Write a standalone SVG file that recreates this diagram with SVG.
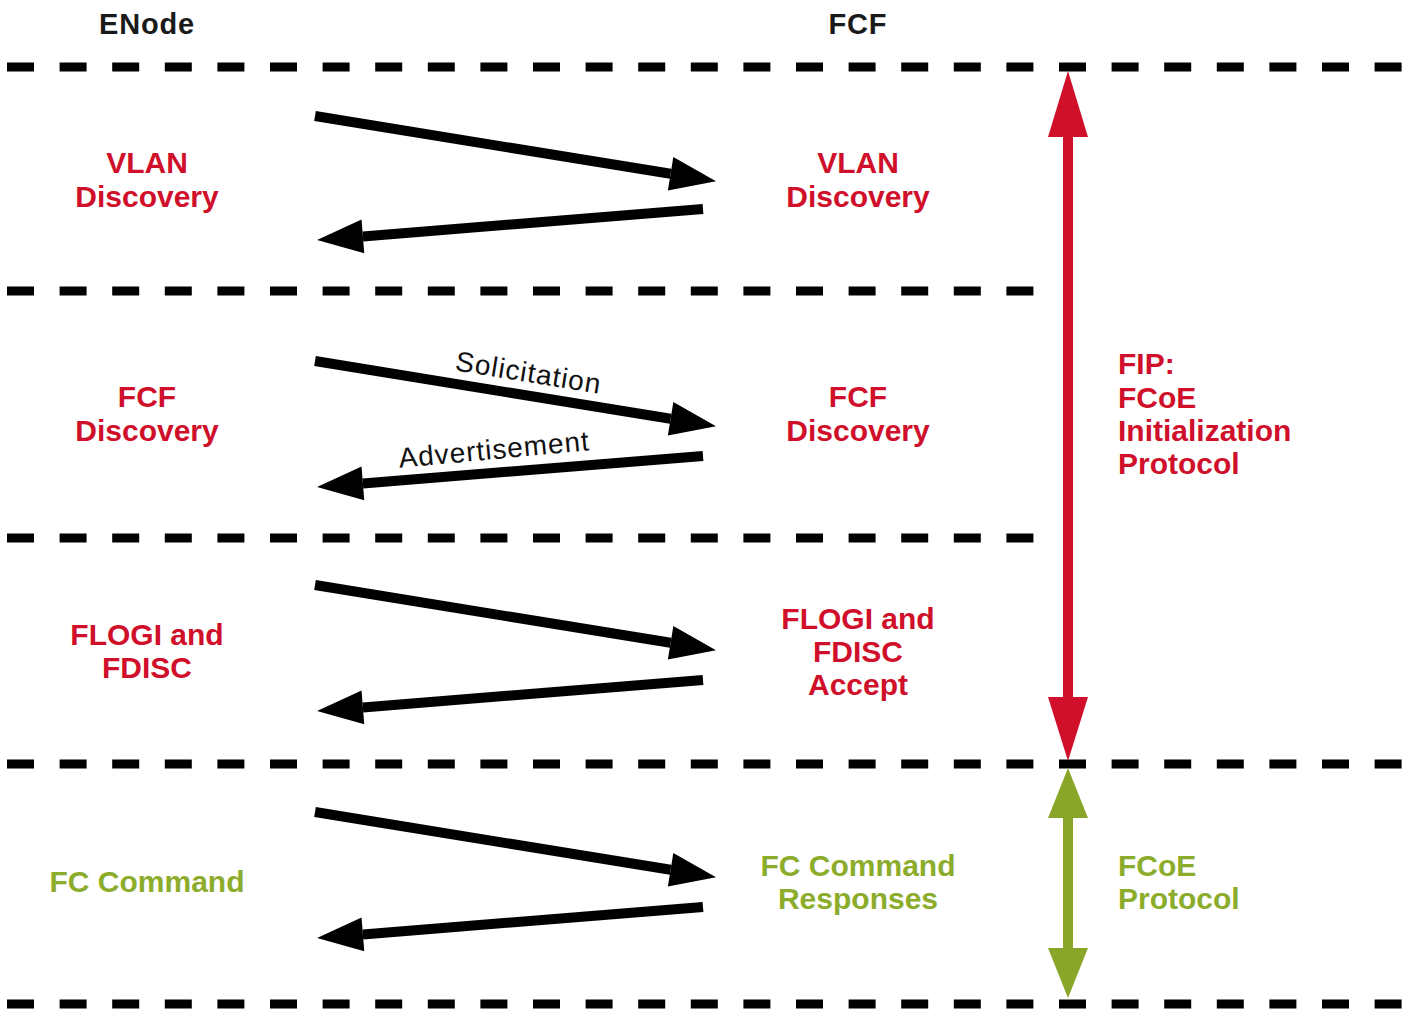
<svg xmlns="http://www.w3.org/2000/svg" width="1406" height="1010" viewBox="0 0 1406 1010">
<defs>
<style>
.dash{stroke:#000;stroke-width:9;stroke-dasharray:27 25.6;fill:none}
.hdr{font-family:"Liberation Sans",Arial,sans-serif;font-weight:bold;font-size:29px;letter-spacing:0.8px;fill:#1a1a1a;text-anchor:middle}
.red{font-family:"Liberation Sans",Arial,sans-serif;font-weight:bold;font-size:30px;fill:#d0102b}
.grn{font-family:"Liberation Sans",Arial,sans-serif;font-weight:bold;font-size:30px;fill:#8cac2c}
.mid{text-anchor:middle}
.msg{font-family:"Liberation Sans",Arial,sans-serif;font-size:28px;fill:#111;letter-spacing:1px;text-anchor:middle}
.arr{stroke:#000;stroke-width:10;fill:none;marker-end:url(#ah)}
</style>
<marker id="ah" markerUnits="userSpaceOnUse" markerWidth="50" markerHeight="40" refX="0" refY="17" orient="auto" overflow="visible">
<path d="M0,0 L46,17 L0,34 z" fill="#000"/>
</marker>
</defs>
<rect width="1406" height="1010" fill="#ffffff"/>
<g id="lanes">
<line class="dash" x1="7" y1="67" x2="1402" y2="67"/>
<line class="dash" x1="7" y1="291" x2="1034" y2="291"/>
<line class="dash" x1="7" y1="538" x2="1034" y2="538"/>
<line class="dash" x1="7" y1="764" x2="1402" y2="764"/>
<line class="dash" x1="7" y1="1004" x2="1402" y2="1004"/>
</g>
<g id="enode-header"><text class="hdr" x="147" y="34">ENode</text></g>
<g id="fcf-header"><text class="hdr" x="858" y="34">FCF</text></g>
<g id="enode-vlan"><text class="red mid" x="147" y="173">VLAN</text><text class="red mid" x="147" y="207">Discovery</text></g>
<g id="fcf-vlan"><text class="red mid" x="858" y="173">VLAN</text><text class="red mid" x="858" y="207">Discovery</text></g>
<g id="enode-fcf"><text class="red mid" x="147" y="407">FCF</text><text class="red mid" x="147" y="441">Discovery</text></g>
<g id="fcf-fcf"><text class="red mid" x="858" y="407">FCF</text><text class="red mid" x="858" y="441">Discovery</text></g>
<g id="enode-flogi"><text class="red mid" x="147" y="645">FLOGI and</text><text class="red mid" x="147" y="678">FDISC</text></g>
<g id="fcf-flogi"><text class="red mid" x="858" y="629">FLOGI and</text><text class="red mid" x="858" y="662">FDISC</text><text class="red mid" x="858" y="695">Accept</text></g>
<g id="enode-fc"><text class="grn mid" x="147" y="892">FC Command</text></g>
<g id="fcf-fc"><text class="grn mid" x="858" y="876">FC Command</text><text class="grn mid" x="858" y="909">Responses</text></g>
<g id="fip-label"><text class="red" x="1118" y="374">FIP:</text><text class="red" x="1118" y="408">FCoE</text><text class="red" x="1118" y="441">Initialization</text><text class="red" x="1118" y="474">Protocol</text></g>
<g id="fcoe-label"><text class="grn" x="1118" y="876">FCoE</text><text class="grn" x="1118" y="909">Protocol</text></g>
<g id="connectors">
<line class="arr" x1="315" y1="116" x2="670.6" y2="173.8"/>
<line class="arr" x1="703" y1="209" x2="362.9" y2="236.4"/>
<line class="arr" x1="315" y1="361" x2="670.6" y2="418.8"/>
<line class="arr" x1="703" y1="456" x2="362.9" y2="483.4"/>
<line class="arr" x1="315" y1="585" x2="670.6" y2="642.8"/>
<line class="arr" x1="703" y1="680" x2="362.9" y2="707.4"/>
<line class="arr" x1="315" y1="812" x2="670.6" y2="869.8"/>
<line class="arr" x1="703" y1="907" x2="362.9" y2="934.4"/>
<text class="msg" transform="translate(527,382) rotate(9.2)">Solicitation</text>
<text class="msg" transform="translate(495,459) rotate(-5.3)">Advertisement</text>
<g id="fip-arrow" fill="#d0102b">
<rect x="1063" y="130" width="10" height="575"/>
<polygon points="1068,71 1048,137 1088,137"/>
<polygon points="1068,761 1048,697 1088,697"/>
</g>
<g id="fcoe-arrow" fill="#8aa628">
<rect x="1063" y="812" width="10" height="142"/>
<polygon points="1068,768 1048,818 1088,818"/>
<polygon points="1068,998 1048,948 1088,948"/>
</g>
</g>
</svg>
